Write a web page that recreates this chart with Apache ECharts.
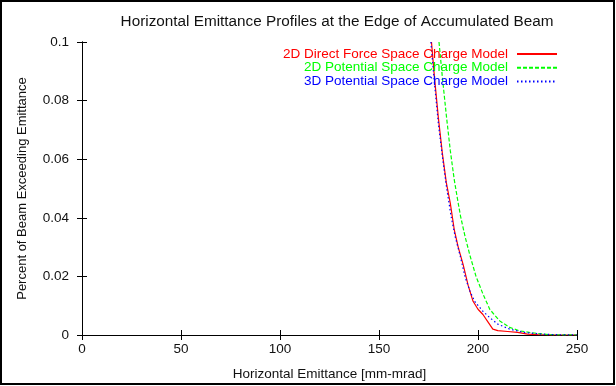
<!DOCTYPE html>
<html>
<head>
<meta charset="utf-8">
<script src="https://cdn.jsdelivr.net/npm/echarts@6/dist/echarts.min.js"></script>
<style>
  html, body { margin: 0; padding: 0; background: #fff; }
  #chart { width: 616px; height: 386px; }
</style>
</head>
<body>
<div id="chart"></div>
<script>
// 数据
var seriesNames = ['2D Direct Force Space Charge Model', '2D Potential Space Charge Model', '3D Potential Space Charge Model']
var seriesColors = ['#ff0000', '#00ff00', '#0000ff']

var redX = [176.5, 178, 180, 182, 184, 186, 188, 190, 192.5, 195, 197.5, 200, 202.5, 205, 207.5, 210, 215, 220, 225, 230, 240, 250]
var redY = [0.1, 0.088, 0.074, 0.062, 0.052, 0.045, 0.036, 0.030, 0.024, 0.017, 0.0115, 0.0088, 0.007, 0.0045, 0.002, 0.0015, 0.0012, 0.0009, 0.0003, 0.0001, 0, 0]

var greenX = [180.3, 182, 184, 186, 188, 190, 191.2, 193.5, 196, 199, 202.5, 206, 211, 216, 221, 228, 236, 250]
var greenY = [0.1, 0.088, 0.075, 0.063, 0.053, 0.045, 0.0405, 0.0335, 0.027, 0.020, 0.014, 0.0087, 0.0048, 0.0026, 0.0014, 0.0007, 0.0001, 0]

var blueX = [176.2, 178, 180, 182, 184, 186.4, 188.5, 191, 193.5, 196, 198.5, 202.5, 206, 210, 216, 223, 232, 240, 250]
var blueY = [0.1, 0.086, 0.072, 0.061, 0.051, 0.0405, 0.0335, 0.027, 0.0198, 0.0148, 0.0113, 0.0081, 0.0059, 0.0037, 0.002, 0.0009, 0.0003, 0.0001, 0]

var xTicks = [0, 50, 100, 150, 200, 250]
var yTicks = [0, 0.02, 0.04, 0.06, 0.08, 0.1]

function pairs(xs, ys) {
  var out = []
  for (var i = 0; i < xs.length; i++) {
    out.push([xs[i], ys[i]])
  }
  return out
}

var font = 'Liberation Sans, Arial, sans-serif'
var lineTypes = ['solid', [4, 2], [1.5, 2.5]]
var allData = [pairs(redX, redY), pairs(greenX, greenY), pairs(blueX, blueY)]

var axisBase = {
  type: 'value',
  axisLine: { show: true, lineStyle: { color: '#000', width: 1 } },
  axisTick: { show: true, inside: true, length: 5, lineStyle: { color: '#000' } },
  splitLine: { show: false }
}

var option = {
  animation: false,
  backgroundColor: '#fff',
  textStyle: { fontFamily: font },
  title: {
    text: 'Horizontal Emittance Profiles at the Edge of Accumulated Beam',
    left: 332,
    textAlign: 'center',
    top: 9,
    textStyle: { fontSize: 15.3, fontWeight: 'normal', color: '#111', fontFamily: font }
  },
  legend: seriesNames.map(function (name, i) {
    return {
      data: [name],
      right: 58,
      top: 47 + i * 13.7,
      align: 'right',
      itemWidth: 40,
      itemHeight: 13,
      padding: 0,
      itemStyle: { opacity: 0 },
      textStyle: { fontSize: 13.5, color: seriesColors[i], fontFamily: font, padding: [0, 4, 0, 0] },
      selectedMode: false
    }
  }),
  grid: { left: 82, right: 39, top: 42, bottom: 45 },
  xAxis: [
    Object.assign({}, axisBase, {
      min: 0, max: 250, interval: 50,
      name: 'Horizontal Emittance [mm-mrad]',
      nameLocation: 'middle',
      nameGap: 32,
      nameTextStyle: { fontSize: 13.5, color: '#111', fontFamily: font },
      axisLabel: { color: '#111', fontSize: 13.5, margin: 7, fontFamily: font,
        formatter: function (v) { return xTicks.indexOf(v) >= 0 ? String(v) : '' } }
    }),
    Object.assign({}, axisBase, {
      position: 'top', min: 0, max: 250, interval: 50,
      axisLabel: { show: false }
    })
  ],
  yAxis: [
    Object.assign({}, axisBase, {
      min: 0, max: 0.1, interval: 0.02,
      name: 'Percent of Beam Exceeding Emittance',
      nameLocation: 'middle',
      nameGap: 53,
      nameTextStyle: { fontSize: 13, color: '#111', fontFamily: font },
      axisLabel: { color: '#111', fontSize: 13.5, margin: 13, fontFamily: font,
        formatter: function (v) {
          for (var k = 0; k < yTicks.length; k++) {
            if (Math.abs(yTicks[k] - v) < 1e-9) return String(yTicks[k])
          }
          return ''
        } }
    }),
    Object.assign({}, axisBase, {
      position: 'right', min: 0, max: 0.1, interval: 0.02,
      axisLabel: { show: false }
    })
  ],
  graphic: [{
    type: 'rect',
    shape: { x: 1, y: 1, width: 613, height: 383 },
    style: { fill: 'none', stroke: '#000', lineWidth: 2 },
    silent: true
  }],
  series: seriesNames.map(function (name, i) {
    return {
      name: name,
      type: 'line',
      data: allData[i],
      symbol: 'none',
      clip: true,
      color: seriesColors[i],
      lineStyle: { color: seriesColors[i], width: 1.2, type: lineTypes[i] }
    }
  })
}

var myChart = echarts.init(document.getElementById('chart'))
myChart.setOption(option)
</script>
</body>
</html>
